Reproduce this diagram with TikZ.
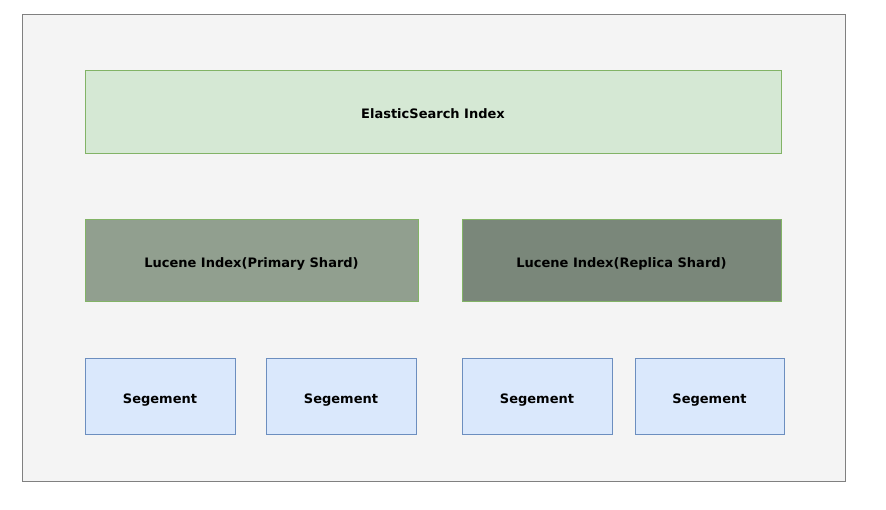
\documentclass[tikz,border=0pt]{standalone}
\usepackage{fontspec}
\setmainfont{DejaVu Sans}
\definecolor{outerfill}{HTML}{F4F4F4}
\definecolor{outerdraw}{HTML}{808080}
\definecolor{esfill}{HTML}{D5E8D4}
\definecolor{esdraw}{HTML}{82B366}
\definecolor{primfill}{HTML}{919F8F}
\definecolor{repfill}{HTML}{7A877A}
\definecolor{segfill}{HTML}{DAE8FC}
\definecolor{segdraw}{HTML}{6C8EBF}
\begin{document}
\begin{tikzpicture}[x=1pt,y=-1pt,
  box/.style={draw, line width=1pt, text height=13pt, text depth=0pt, font=\fontsize{13}{15}\selectfont\bfseries},
  greenbox/.style={box, draw=esdraw},
  segbox/.style={box, draw=segdraw, fill=segfill}]
\useasboundingbox (0,0) rectangle (886,510);
\path[draw=outerdraw, fill=outerfill, line width=1pt] (22,15) rectangle (845,481);
\node[greenbox, fill=esfill, minimum width=696pt, minimum height=83pt] (es) at (433,112.5) {ElasticSearch Index};
\node[greenbox, fill=primfill, minimum width=333pt, minimum height=82pt] (prim) at (251.5,261) {Lucene Index(Primary Shard)};
\node[greenbox, fill=repfill, minimum width=319pt, minimum height=82pt] (rep) at (621.5,261) {Lucene Index(Replica Shard)};
\node[segbox, minimum width=150pt, minimum height=75pt] (s1) at (160,396.5) {Segement};
\node[segbox, minimum width=150pt, minimum height=75pt] (s2) at (341,396.5) {Segement};
\node[segbox, minimum width=150pt, minimum height=75pt] (s3) at (537,396.5) {Segement};
\node[segbox, minimum width=149pt, minimum height=75pt] (s4) at (709.5,396.5) {Segement};
\end{tikzpicture}
\end{document}
